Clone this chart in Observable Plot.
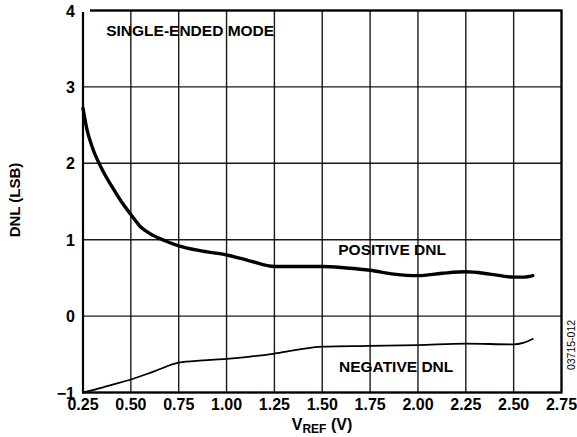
<!DOCTYPE html>
<html>
<head>
<meta charset="utf-8">
<script src="https://cdn.jsdelivr.net/npm/d3@7"></script>
<script src="https://cdn.jsdelivr.net/npm/@observablehq/plot@0.6"></script>
<style>
  html, body { margin: 0; padding: 0; background: #fff; overflow: hidden; }
  #chart { width: 577px; height: 437px; }
  svg { font-family: "Liberation Sans", Arial, sans-serif; overflow: visible !important; }
</style>
</head>
<body>
<div id="chart"></div>
<script>
// ---- data ----
const posV   = [0.25, 0.27, 0.30, 0.35, 0.40, 0.45, 0.50, 0.55, 0.60, 0.675, 0.75, 0.875, 1.00, 1.125, 1.25, 1.375, 1.50, 1.625, 1.75, 1.875, 2.00, 2.125, 2.25, 2.375, 2.50, 2.55, 2.60];
const posDNL = [2.72, 2.45, 2.20, 1.92, 1.70, 1.50, 1.33, 1.17, 1.08, 0.99, 0.92, 0.85, 0.80, 0.72, 0.65, 0.65, 0.65, 0.63, 0.60, 0.55, 0.53, 0.56, 0.58, 0.55, 0.51, 0.51, 0.53];
const negV   = [0.25, 0.30, 0.40, 0.50, 0.625, 0.75, 0.875, 1.00, 1.125, 1.25, 1.375, 1.50, 1.75, 2.00, 2.25, 2.50, 2.55, 2.60];
const negDNL = [-1.00, -0.97, -0.90, -0.83, -0.72, -0.61, -0.58, -0.56, -0.53, -0.49, -0.44, -0.40, -0.39, -0.38, -0.36, -0.37, -0.35, -0.30];
const xTicks = [0.25, 0.50, 0.75, 1.00, 1.25, 1.50, 1.75, 2.00, 2.25, 2.50, 2.75];
const yTicks = [-1, 0, 1, 2, 3, 4];
const labelText = ["SINGLE-ENDED MODE", "POSITIVE DNL", "NEGATIVE DNL"];
const labelX = [0.81, 1.865, 1.886];
const labelY = [3.725, 0.86, -0.664];

const pos = posV.map((v, i) => ({v, d: posDNL[i]}));
const neg = negV.map((v, i) => ({v, d: negDNL[i]}));
const labels = labelText.map((t, i) => ({t, x: labelX[i], y: labelY[i]}));
const font = "Liberation Sans, Arial, sans-serif";

const svg = Plot.plot({
  width: 577, height: 437,
  marginLeft: 82.5, marginRight: 16, marginTop: 10, marginBottom: 45,
  style: {fontFamily: font, fontSize: "16px", fontWeight: "bold", color: "#000", background: "#fff", overflow: "visible"},
  x: {domain: [0.25, 2.75], axis: null},
  y: {domain: [-1, 4], axis: null},
  marks: [
    Plot.ruleX(xTicks, {stroke: "#000", strokeWidth: 1.4, strokeOpacity: 0.9}),
    Plot.ruleY(yTicks, {stroke: "#000", strokeWidth: 1.4, strokeOpacity: 0.9}),
    Plot.frame({stroke: "#000", strokeWidth: 2.2}),
    Plot.text(xTicks, {x: d => d, frameAnchor: "bottom", lineAnchor: "top", dy: 6, text: d3.format(".2f"), fontSize: 16, fontWeight: "bold", fill: "#000"}),
    Plot.text(yTicks, {y: d => d, frameAnchor: "left", textAnchor: "end", dx: -8, dy: 1, text: d3.format("d"), fontSize: 16, fontWeight: "bold", fill: "#000", className: "ytick"}),
    Plot.line(neg, {x: "v", y: "d", stroke: "#000", strokeWidth: 1.8, curve: "monotone-x"}),
    Plot.line(pos, {x: "v", y: "d", stroke: "#000", strokeWidth: 3.4, curve: "monotone-x"}),
    Plot.text(labels, {x: "x", y: "y", text: "t", fontSize: 15.5, fontWeight: "bold", fill: "#000", className: "annot"})
  ]
});
document.getElementById("chart").appendChild(svg);

const s = d3.select(svg);
s.attr("overflow", "visible");
s.selectAll("[clip-path]").attr("clip-path", null);

// white boxes behind annotation labels (sized from the rendered text)
const annot = svg.querySelector("g.annot") || Array.from(svg.querySelectorAll("g[aria-label='text']")).pop();
if (annot) {
  const boxG = document.createElementNS("http://www.w3.org/2000/svg", "g");
  annot.parentNode.insertBefore(boxG, annot);
  annot.querySelectorAll("text").forEach(t => {
    const b = t.getBBox();
    const r = document.createElementNS("http://www.w3.org/2000/svg", "rect");
    r.setAttribute("x", b.x - 6); r.setAttribute("y", b.y - 4);
    r.setAttribute("width", b.width + 12); r.setAttribute("height", b.height + 8);
    r.setAttribute("fill", "#fff");
    boxG.appendChild(r);
  });
}
// keep the y tick labels on top of everything
const yt = svg.querySelector("g.ytick");
if (yt) svg.appendChild(yt);

// axis titles
s.append("text").attr("transform", "translate(20,200) rotate(-90)").attr("text-anchor", "middle")
  .attr("font-size", 15).attr("font-weight", "bold").attr("fill", "#000").text("DNL (LSB)");
const xl = s.append("text").attr("x", 322).attr("y", 430).attr("text-anchor", "middle")
  .attr("font-size", 16).attr("font-weight", "bold").attr("fill", "#000");
xl.append("tspan").text("V");
xl.append("tspan").attr("font-size", 12).attr("dy", 3).text("REF");
xl.append("tspan").attr("dy", -3).text(" (V)");
s.append("text").attr("transform", "translate(575,345) rotate(-90)").attr("text-anchor", "middle")
  .attr("font-size", 10.5).attr("font-weight", "normal").attr("fill", "#000").text("03715-012");
</script>
</body>
</html>
